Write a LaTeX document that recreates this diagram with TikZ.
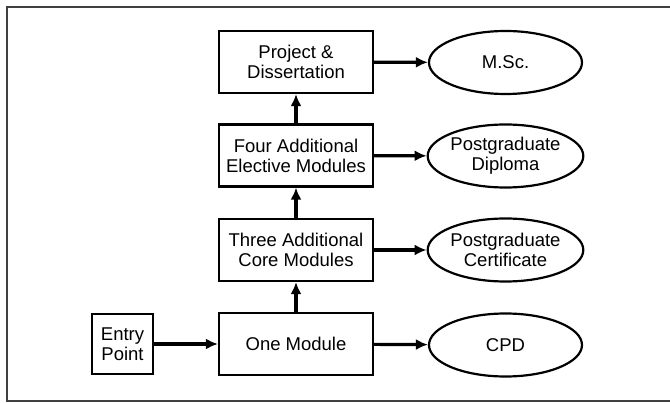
\documentclass[tikz,border=0pt]{standalone}
\usepackage{fontspec}
\setmainfont{Liberation Sans}
\usetikzlibrary{shapes.geometric}
\usetikzlibrary{arrows.meta}
\tikzset{>={Latex[length=12pt,width=11pt]}}
\tikzset{stage/.style = {shape=rectangle,draw,line width=2.2pt,minimum width=154pt,minimum height=62pt,align=center,inner sep=0pt}}
\tikzset{award/.style = {shape=ellipse,draw,line width=2.2pt,minimum width=153pt,minimum height=63pt,align=center,inner sep=0pt}}
\tikzset{flow/.style = {->,line width=3.2pt}}

\begin{document}
\begin{tikzpicture}[x=1pt,y=-1pt,font=\fontsize{18.5}{20}\selectfont]
                \useasboundingbox (0,0) rectangle (670,403);
                \draw[line width=2.4pt,black!75] (7,7) rectangle (690,401);

                \node[stage] (PD) at (296,62) {Project \&\\Dissertation};
                \node[stage] (FE) at (296,155.5) {Four Additional\\Elective Modules};
                \node[stage] (TC) at (296,250) {Three Additional\\Core Modules};
                \node[stage] (OM) at (296,344) {One Module};
                \node[stage,minimum width=61pt,minimum height=60pt] (EP) at (122.5,344) {Entry\\Point};

                \node[award] (MSc) at (505.5,62.5) {M.Sc.};
                \node[award] (Dip) at (505.5,156) {Postgraduate\\Diploma};
                \node[award] (Cert) at (505.5,250) {Postgraduate\\Certificate};
                \node[award] (CPD) at (505.5,345) {CPD};

                \draw[flow] (EP) -- (OM);
                \draw[flow] (OM) -- (TC);
                \draw[flow] (TC) -- (FE);
                \draw[flow] (FE) -- (PD);
                \draw[flow] (PD) -- (MSc);
                \draw[flow] (FE) -- (Dip);
                \draw[flow] (TC) -- (Cert);
                \draw[flow] (OM) -- (CPD);
            \end{tikzpicture}
\end{document}
